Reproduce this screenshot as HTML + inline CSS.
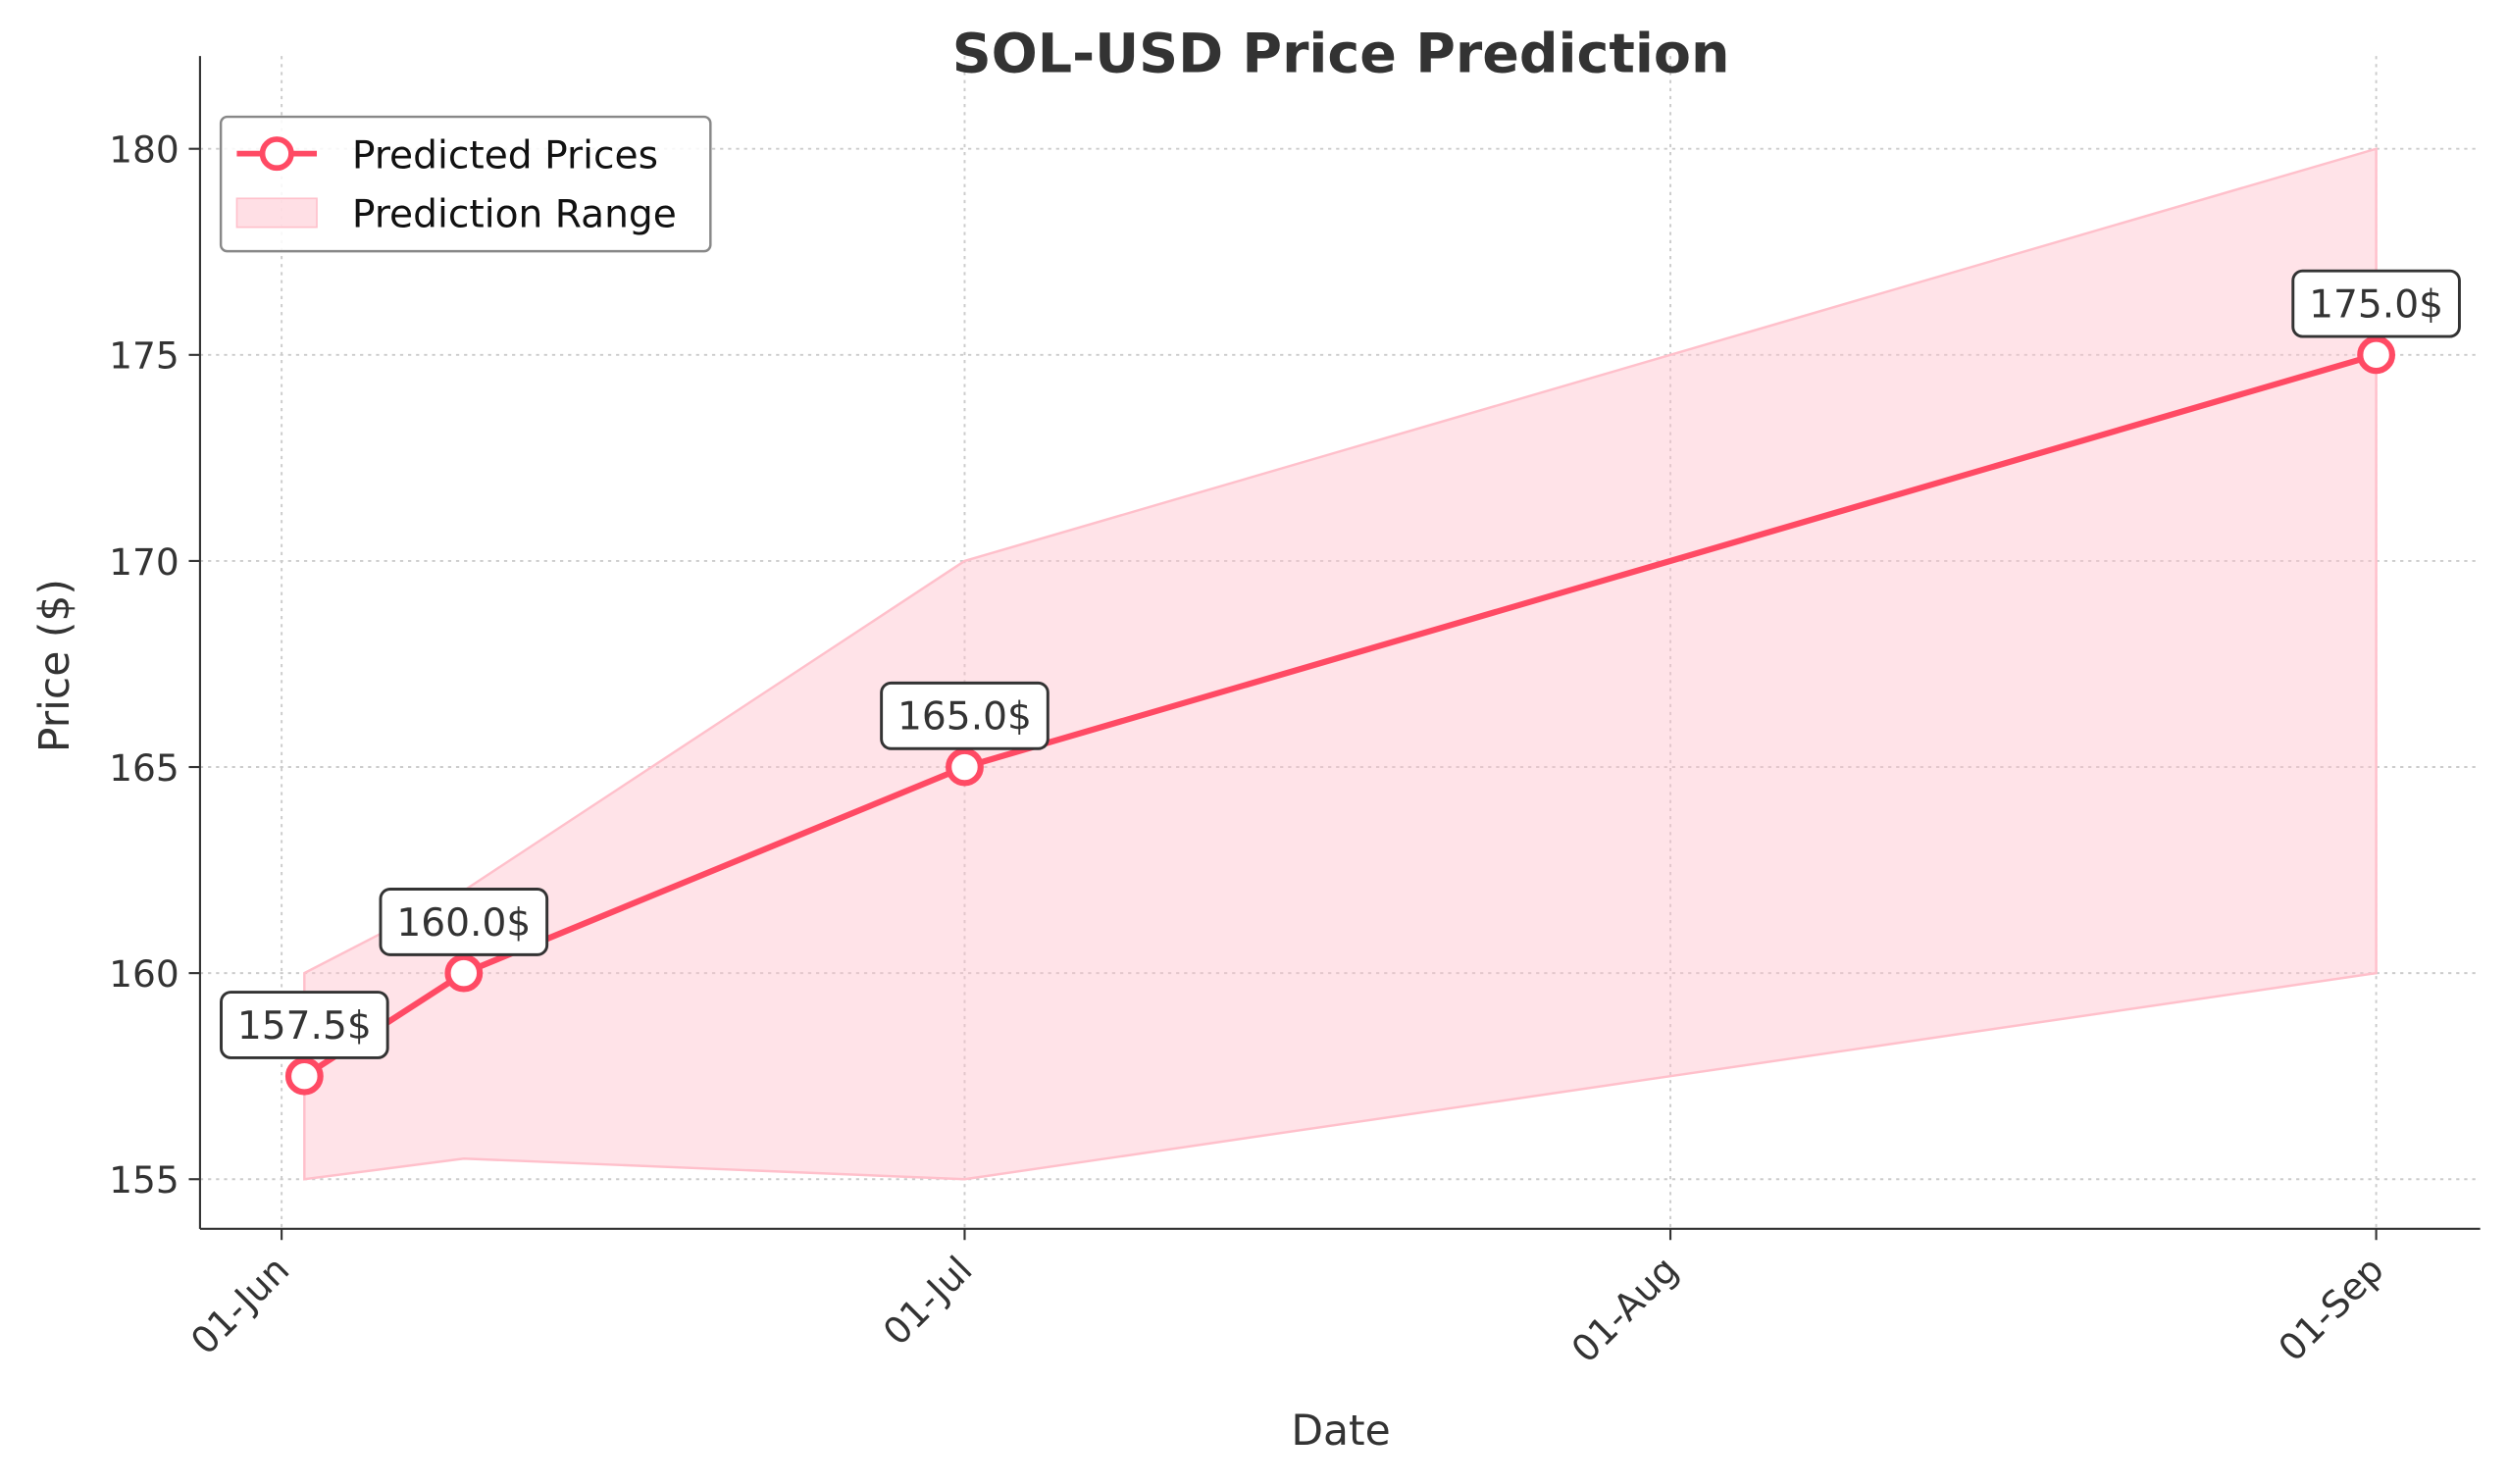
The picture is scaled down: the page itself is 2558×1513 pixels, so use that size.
<!DOCTYPE html>
<html><head><meta charset="utf-8"><style>
html,body{margin:0;padding:0;background:#fff;}
svg{display:block;font-family:"DejaVu Sans","Liberation Sans",sans-serif;}
</style></head><body>
<svg id="chart" width="2558" height="1513" viewBox="0 0 1568 927.5" preserveAspectRatio="none" xmlns="http://www.w3.org/2000/svg">
<rect width="1568" height="927.5" fill="#fff"/>
<g id="grid"></g>
<g id="plot"></g>
<line x1="125" y1="35" x2="125" y2="768" stroke="#333" stroke-width="1.3"/>
<line x1="125" y1="768" x2="1550" y2="768" stroke="#333" stroke-width="1.3"/>
<g id="ticks"></g>
<text x="838" y="45" text-anchor="middle" font-size="34" font-weight="bold" fill="#333">SOL-USD Price Prediction</text>
<text x="838" y="903" text-anchor="middle" font-size="26" fill="#333">Date</text>
<text transform="translate(43,416) rotate(-90)" text-anchor="middle" font-size="26" fill="#333">Price ($)</text>
<g>
<rect x="138" y="73" width="306" height="84" rx="4" fill="#fff" fill-opacity="0.85" stroke="#888" stroke-width="1.5"/>
<line x1="148" y1="96" x2="198" y2="96" stroke="#ff4a64" stroke-width="3.5"/>
<circle cx="173" cy="96" r="9" fill="#fff" stroke="#ff4a64" stroke-width="3.5"/>
<text x="220" y="105" font-size="24" fill="#111">Predicted Prices</text>
<rect x="148" y="124" width="50" height="18" fill="#ffc0cb" fill-opacity="0.5" stroke="#ffc0cb"/>
<text x="220" y="142" font-size="24" fill="#111">Prediction Range</text>
</g>
</svg>
<script>
const rangeDates=[1,8,30,61,92];
const rangeUpper=[160,162,170,175,180];
const rangeLower=[155,155.5,155,157.5,160];
const pointDates=[1,8,30,92];
const pointValues=[157.5,160,165,175];
const xTickDays=[0,30,61,92];
const xTickLabels=["01-Jun","01-Jul","01-Aug","01-Sep"];
const yTicks=[155,160,165,170,175,180];

const NS="http://www.w3.org/2000/svg";
const x=d=>176+d*(1485-176)/92;
const y=v=>737-(v-155)*(737-93)/25;
function mk(tag,attrs,parent){const e=document.createElementNS(NS,tag);for(const k in attrs)e.setAttribute(k,attrs[k]);parent.appendChild(e);return e;}
const grid=document.getElementById('grid'),plot=document.getElementById('plot'),ticks=document.getElementById('ticks');

yTicks.forEach(v=>{
  const g=mk('line',{x1:125,x2:1550,y1:y(v),y2:y(v),stroke:'#ccc','stroke-dasharray':'2,3','stroke-width':1.2},grid);
  
  
  mk('line',{x1:118,x2:125,y1:y(v),y2:y(v),stroke:'#333','stroke-width':1.3},ticks);
  const t=mk('text',{x:112,y:y(v)+8.5,'text-anchor':'end','font-size':23,fill:'#333'},ticks);
  
  
  t.textContent=v;
});
xTickDays.forEach((d,i)=>{
  const g=mk('line',{x1:x(d),x2:x(d),y1:35,y2:768,stroke:'#ccc','stroke-dasharray':'2,3','stroke-width':1.2},grid);
  
  
  mk('line',{x1:x(d),x2:x(d),y1:768,y2:775,stroke:'#333','stroke-width':1.3},ticks);
  const t=mk('text',{x:0,y:0,'text-anchor':'end','font-size':23,fill:'#333',transform:`translate(${x(d)+6},${795}) rotate(-45)`},ticks);
  
  
  t.textContent=xTickLabels[i];
});

let pts=rangeDates.map((d,i)=>x(d)+','+y(rangeUpper[i]));
for(let i=rangeDates.length-1;i>=0;i--)pts.push(x(rangeDates[i])+','+y(rangeLower[i]));
const area=mk('polygon',{points:pts.join(' '),fill:'#ffc0cb','fill-opacity':0.45,stroke:'#ffc0cb','stroke-width':1.5},plot);



const line=mk('polyline',{points:pointDates.map((d,i)=>x(d)+','+y(pointValues[i])).join(' '),fill:'none',stroke:'#ff4a64','stroke-width':3.8},plot);



pointDates.forEach((d,i)=>{
  const c=mk('circle',{cx:x(d),cy:y(pointValues[i]),r:10,fill:'#fff',stroke:'#ff4a64','stroke-width':3.8},plot);
  
  
  const lx=x(d),ly=y(pointValues[i])-32;
  const b=mk('rect',{x:lx-52,y:ly-20.5,width:104,height:41,rx:6,fill:'#fff',stroke:'#333','stroke-width':1.8},plot);
  
  
  const t=mk('text',{x:lx,y:ly+8.5,'text-anchor':'middle','font-size':24,fill:'#333'},plot);
  
  
  t.textContent=pointValues[i].toFixed(1)+'$';
});
</script>
</body></html>
